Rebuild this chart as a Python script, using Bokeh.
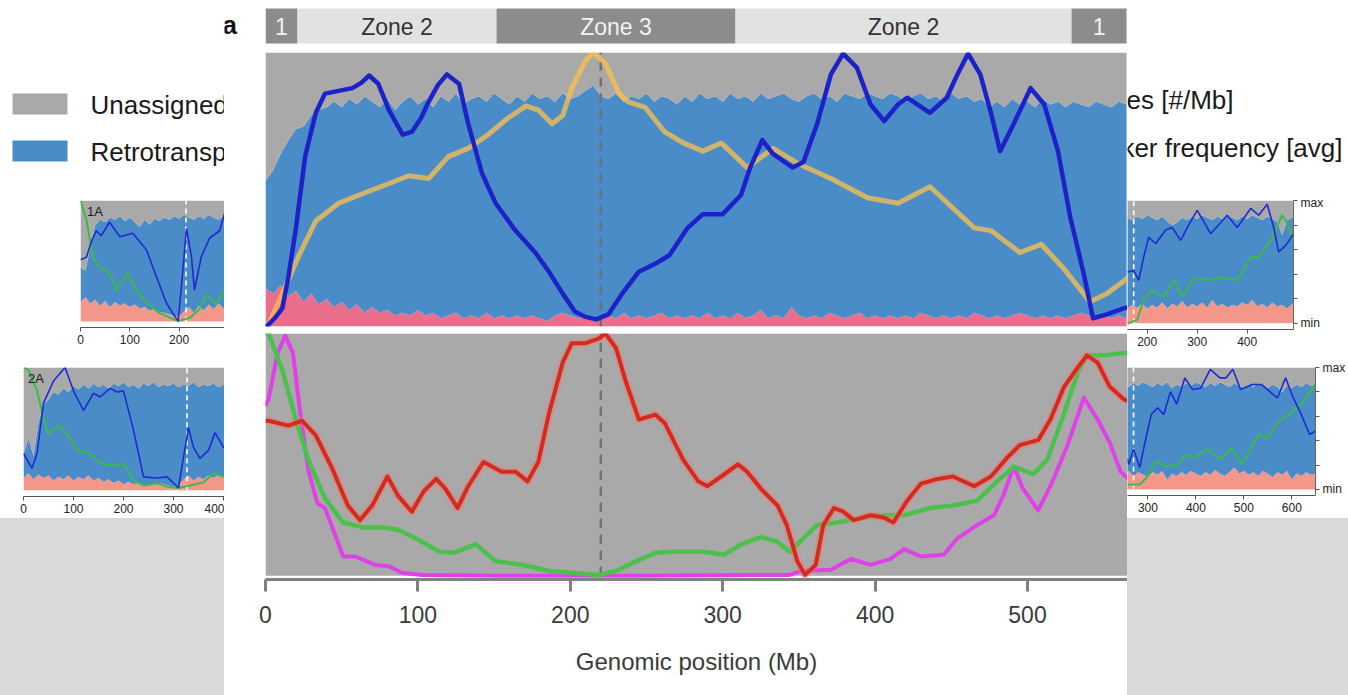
from bokeh.plotting import figure
from bokeh.layouts import row, column
from bokeh.models import Range1d, FixedTicker, LinearAxis, BoxAnnotation, Div
from bokeh.core.properties import value
from bokeh.embed import file_html
from bokeh.resources import INLINE

FONT = "Liberation Sans"
C_UNASSIGNED = "#a9a9a9"
C_RETRO = "#4a8cc8"
C_PINK = "#e96e8c"
C_SALMON = "#f4978b"
C_BLUE_LINE = "#1c22c8"
C_ORANGE = "#ffc24a"
C_RED = "#d42a20"
C_GREEN = "#4cc04c"
C_MAGENTA = "#e040e8"
C_SMALL_BLUE = "#1e2ad2"
C_SMALL_GREEN = "#3cba4a"
C_BAND = "#d9d9d9"

# ---------------- legend texts ----------------
legend_left_labels = ["Unassigned", "Retrotransposons"]
legend_left_colors = [C_UNASSIGNED, C_RETRO]
legend_right_labels = ["Genes [#/Mb]", "Marker frequency [avg]"]

# ---------------- zone bar ----------------
zone_labels = ["1", "Zone 2", "Zone 3", "Zone 2", "1"]
zone_start = [0, 21, 151.6, 308.4, 528.9]
zone_end = [21, 151.6, 308.4, 528.9, 565]
zone_dark = [True, False, True, False, True]

# ---------------- central panel (Mb) ----------------
center_ticks = [0, 100, 200, 300, 400, 500]
center_centromere = [220]

center_area_pos = list(range(0, 570, 5))
center_retro_top = [
    0.53, 0.57, 0.63, 0.68, 0.72, 0.73, 0.77, 0.79, 0.80, 0.82,
    0.80, 0.83, 0.81, 0.84, 0.82, 0.80, 0.83, 0.79, 0.82, 0.84,
    0.81, 0.83, 0.80, 0.84, 0.82, 0.85, 0.81, 0.83, 0.84, 0.82,
    0.85, 0.83, 0.81, 0.84, 0.82, 0.85, 0.83, 0.84, 0.82, 0.85,
    0.83, 0.84, 0.86, 0.88, 0.84, 0.83, 0.85, 0.82, 0.84, 0.83,
    0.85, 0.82, 0.84, 0.83, 0.81, 0.84, 0.82, 0.85, 0.83, 0.84,
    0.82, 0.85, 0.83, 0.84, 0.82, 0.85, 0.83, 0.84, 0.85, 0.83,
    0.82, 0.84, 0.85, 0.83, 0.84, 0.82, 0.85, 0.84, 0.83, 0.85,
    0.84, 0.83, 0.85, 0.84, 0.82, 0.84, 0.85, 0.83, 0.84, 0.82,
    0.85, 0.83, 0.84, 0.82, 0.83, 0.80, 0.82, 0.80, 0.83, 0.81,
    0.82, 0.80, 0.83, 0.81, 0.82, 0.80, 0.82, 0.81, 0.80, 0.82,
    0.81, 0.80, 0.82, 0.81]
center_low_top = [
    0.14, 0.12, 0.15, 0.11, 0.13, 0.09, 0.12, 0.08, 0.10, 0.07,
    0.09, 0.06, 0.08, 0.05, 0.07, 0.05, 0.06, 0.04, 0.05, 0.04,
    0.06, 0.04, 0.05, 0.03, 0.04, 0.05, 0.03, 0.04, 0.03, 0.05,
    0.03, 0.04, 0.03, 0.04, 0.03, 0.04, 0.03, 0.02, 0.04, 0.05,
    0.04, 0.03, 0.04, 0.02, 0.03, 0.04, 0.03, 0.05, 0.03, 0.04,
    0.03, 0.04, 0.05, 0.03, 0.04, 0.03, 0.04, 0.03, 0.05, 0.03,
    0.04, 0.03, 0.05, 0.03, 0.04, 0.06, 0.03, 0.04, 0.03, 0.07,
    0.04, 0.03, 0.04, 0.03, 0.05, 0.04, 0.03, 0.04, 0.05, 0.03,
    0.04, 0.03, 0.04, 0.03, 0.04, 0.03, 0.05, 0.04, 0.03, 0.04,
    0.03, 0.04, 0.03, 0.05, 0.04, 0.03, 0.04, 0.03, 0.04, 0.05,
    0.04, 0.03, 0.04, 0.03, 0.04, 0.03, 0.04, 0.05, 0.04, 0.03,
    0.04, 0.03, 0.04, 0.03]

blue_x = [0, 2, 6, 11, 15, 20, 26, 33, 39, 48, 57, 63, 68, 74, 81, 90, 96, 102, 107, 113,
          119, 127, 133, 142, 151, 164, 177, 186, 195, 203, 210, 217, 225, 234, 245, 256,
          265, 277, 287, 300, 312, 318, 326, 333, 346, 353, 362, 371, 379, 388, 397, 406,
          415, 421, 436, 447, 454, 461, 469, 476, 482, 491, 502, 511, 520, 528, 537, 543,
          552, 563, 566]
blue_y = [0.0, 0.007, 0.03, 0.066, 0.18, 0.36, 0.62, 0.78, 0.85, 0.86, 0.87, 0.89, 0.916, 0.886,
          0.79, 0.70, 0.71, 0.76, 0.82, 0.88, 0.92, 0.886, 0.74, 0.56, 0.45, 0.35, 0.27, 0.20,
          0.12, 0.055, 0.035, 0.026, 0.044, 0.12, 0.20, 0.23, 0.26, 0.36, 0.41, 0.41, 0.48,
          0.58, 0.68, 0.63, 0.58, 0.60, 0.74, 0.92, 0.996, 0.945, 0.81, 0.75, 0.81, 0.835,
          0.78, 0.835, 0.92, 0.996, 0.92, 0.78, 0.64, 0.74, 0.87, 0.81, 0.64, 0.40, 0.19,
          0.03, 0.044, 0.066, 0.07]

orange_x = [0, 2, 11, 22, 33, 48, 66, 85, 94, 107, 120, 133, 146, 159, 171, 179, 188, 195,
            201, 210, 215, 223, 232, 238, 249, 262, 274, 287, 299, 316, 333, 351, 371, 395,
            415, 436, 465, 476, 495, 509, 524, 541, 552, 563, 566]
orange_y = [0.0, 0.007, 0.12, 0.26, 0.385, 0.45, 0.49, 0.53, 0.55, 0.54, 0.62, 0.65, 0.70,
            0.76, 0.805, 0.79, 0.74, 0.77, 0.87, 0.97, 1.0, 0.96, 0.85, 0.82, 0.80, 0.71,
            0.67, 0.64, 0.67, 0.58, 0.65, 0.59, 0.54, 0.47, 0.45, 0.51, 0.36, 0.35, 0.27,
            0.30, 0.21, 0.09, 0.12, 0.165, 0.18]

red_x = [0, 2, 15, 24, 33, 44, 54, 62, 70, 80, 87, 96, 104, 112, 118, 126, 133, 143, 155,
         164, 172, 179, 186, 195, 201, 210, 219, 223, 230, 236, 245, 256, 262, 274, 284, 290,
         299, 310, 316, 325, 336, 342, 349, 354, 361, 366, 373, 379, 386, 397, 406, 412, 421,
         430, 441, 451, 465, 476, 487, 495, 507, 515, 524, 533, 539, 546, 554, 563, 566]
red_y = [0.64, 0.64, 0.62, 0.64, 0.58, 0.44, 0.29, 0.23, 0.29, 0.41, 0.33, 0.265, 0.35, 0.40,
         0.36, 0.28, 0.37, 0.47, 0.43, 0.43, 0.39, 0.47, 0.67, 0.88, 0.96, 0.96, 0.98, 1.0,
         0.94, 0.81, 0.645, 0.665, 0.63, 0.48, 0.39, 0.37, 0.41, 0.46, 0.43, 0.36, 0.29, 0.21,
         0.06, 0.004, 0.045, 0.21, 0.28, 0.265, 0.23, 0.25, 0.24, 0.22, 0.31, 0.38, 0.40, 0.41,
         0.37, 0.41, 0.49, 0.54, 0.56, 0.645, 0.78, 0.86, 0.91, 0.88, 0.78, 0.73, 0.72]

green_x = [0, 2, 11, 20, 28, 39, 51, 64, 77, 87, 100, 114, 123, 138, 151, 169, 186, 203, 219,
           230, 243, 256, 269, 287, 301, 312, 325, 336, 344, 353, 362, 375, 388, 402, 419, 436,
           451, 467, 480, 491, 504, 513, 524, 533, 539, 552, 563, 566]
green_y = [1.0, 1.0, 0.85, 0.645, 0.48, 0.32, 0.22, 0.20, 0.20, 0.19, 0.15, 0.10, 0.095, 0.13,
           0.06, 0.045, 0.02, 0.012, 0.004, 0.02, 0.06, 0.095, 0.10, 0.10, 0.087, 0.13, 0.16,
           0.14, 0.10, 0.155, 0.21, 0.22, 0.235, 0.25, 0.25, 0.28, 0.29, 0.31, 0.39, 0.45, 0.42,
           0.48, 0.67, 0.84, 0.91, 0.91, 0.92, 0.92]

magenta_x = [0, 2, 8, 13, 18, 22, 28, 34, 39, 51, 59, 72, 81, 90, 103, 150, 250, 344, 351,
             371, 384, 397, 410, 419, 430, 445, 454, 467, 478, 484, 491, 497, 507, 515, 526,
             537, 546, 554, 561, 566]
magenta_y = [0.70, 0.73, 0.92, 0.99, 0.92, 0.71, 0.44, 0.30, 0.28, 0.08, 0.08, 0.045, 0.04,
             0.012, 0.004, 0.0, 0.0, 0.004, 0.02, 0.025, 0.07, 0.045, 0.07, 0.11, 0.08, 0.087,
             0.155, 0.21, 0.25, 0.33, 0.45, 0.36, 0.27, 0.37, 0.535, 0.735, 0.645, 0.55, 0.43,
             0.40]

# ---------------- small panel 1A ----------------
p1a_label = "1A"
p1a_ticks = [0, 100, 200, 300]
p1a_cen = [214]
p1a_pos = list(range(0, 310, 10))
p1a_retro = [0.45, 0.42, 0.62, 0.80, 0.84, 0.82, 0.86, 0.84, 0.87, 0.83, 0.86, 0.82, 0.78,
             0.84, 0.80, 0.85, 0.83, 0.86, 0.84, 0.87, 0.85, 0.88, 0.86, 0.84, 0.87, 0.85,
             0.88, 0.86, 0.84, 0.87, 0.85]
p1a_low = [0.16, 0.20, 0.15, 0.18, 0.13, 0.17, 0.12, 0.16, 0.13, 0.15, 0.12, 0.14, 0.11, 0.12,
           0.09, 0.10, 0.08, 0.07, 0.06, 0.04, 0.05, 0.08, 0.12, 0.07, 0.13, 0.09, 0.14, 0.10,
           0.15, 0.11, 0.13]
p1a_blue_x = [0, 12, 22, 32, 42, 59, 80, 106, 134, 154, 174, 190, 198, 204, 215, 225, 231,
              245, 262, 282, 292]
p1a_blue_y = [0.51, 0.53, 0.66, 0.75, 0.71, 0.82, 0.70, 0.73, 0.59, 0.37, 0.155, 0.05, 0.003,
              0.26, 0.77, 0.535, 0.26, 0.535, 0.69, 0.75, 0.89]
p1a_green_x = [0, 12, 25, 38, 59, 73, 96, 113, 134, 160, 198, 222, 241, 255, 275, 288, 292]
p1a_green_y = [1.0, 0.84, 0.535, 0.45, 0.40, 0.26, 0.40, 0.26, 0.155, 0.07, 0.003, 0.03, 0.10,
               0.22, 0.14, 0.24, 0.25]

# ---------------- small panel 2A ----------------
p2a_label = "2A"
p2a_ticks = [0, 100, 200, 300, 400]
p2a_cen = [327]
p2a_pos = list(range(0, 420, 10))
p2a_retro = [0.30, 0.42, 0.28, 0.55, 0.70, 0.74, 0.80, 0.78, 0.83, 0.80, 0.85, 0.82, 0.86,
             0.83, 0.87, 0.84, 0.86, 0.83, 0.87, 0.85, 0.88, 0.84, 0.86, 0.83, 0.87, 0.85,
             0.88, 0.84, 0.86, 0.85, 0.87, 0.84, 0.86, 0.85, 0.88, 0.84, 0.86, 0.85, 0.87,
             0.84, 0.86, 0.85]
p2a_low = [0.10, 0.14, 0.09, 0.13, 0.10, 0.12, 0.08, 0.11, 0.09, 0.12, 0.08, 0.11, 0.09, 0.12,
           0.08, 0.10, 0.07, 0.09, 0.06, 0.08, 0.05, 0.07, 0.05, 0.06, 0.04, 0.05, 0.04, 0.06,
           0.05, 0.04, 0.03, 0.04, 0.09, 0.12, 0.08, 0.11, 0.09, 0.12, 0.10, 0.13, 0.11, 0.12]
p2a_blue_x = [0, 17, 27, 40, 60, 83, 100, 120, 140, 153, 173, 187, 200, 220, 240, 267, 287,
              310, 320, 330, 340, 353, 370, 383, 400, 402]
p2a_blue_y = [0.30, 0.18, 0.30, 0.71, 0.89, 1.0, 0.81, 0.65, 0.79, 0.76, 0.83, 0.80, 0.81,
              0.49, 0.11, 0.10, 0.11, 0.02, 0.27, 0.51, 0.35, 0.26, 0.325, 0.47, 0.35, 0.35]
p2a_green_x = [0, 10, 27, 40, 50, 70, 87, 107, 133, 153, 180, 200, 220, 240, 267, 287, 310,
               333, 360, 380, 400, 402]
p2a_green_y = [1.0, 0.98, 0.81, 0.59, 0.46, 0.53, 0.46, 0.325, 0.30, 0.22, 0.20, 0.22, 0.08,
               0.04, 0.057, 0.03, 0.02, 0.04, 0.065, 0.14, 0.11, 0.11]

# ---------------- right-top small panel ----------------
prt_ticks = [200, 300, 400]
prt_cen = [173]
prt_pos = list(range(160, 510, 10))
prt_retro = [0.86, 0.84, 0.87, 0.85, 0.88, 0.86, 0.84, 0.87, 0.83, 0.80, 0.82, 0.86, 0.84,
             0.87, 0.85, 0.88, 0.86, 0.84, 0.87, 0.85, 0.88, 0.86, 0.84, 0.87, 0.85, 0.88,
             0.86, 0.84, 0.87, 0.85, 0.83, 0.72, 0.84, 0.86, 0.85]
prt_low = [0.12, 0.15, 0.13, 0.16, 0.12, 0.15, 0.13, 0.17, 0.12, 0.16, 0.14, 0.18, 0.13, 0.16,
           0.14, 0.17, 0.13, 0.19, 0.14, 0.16, 0.13, 0.15, 0.14, 0.17, 0.15, 0.19, 0.14, 0.16,
           0.13, 0.17, 0.14, 0.15, 0.12, 0.16, 0.14]
prt_blue_x = [160, 163, 173, 183, 193, 203, 217, 237, 250, 267, 280, 300, 327, 360, 380, 407,
              423, 440, 453, 463, 477, 493]
prt_blue_y = [0.42, 0.42, 0.43, 0.35, 0.54, 0.70, 0.65, 0.76, 0.78, 0.675, 0.78, 0.92, 0.73,
              0.88, 0.78, 0.935, 0.88, 0.97, 0.78, 0.58, 0.635, 0.73]
prt_green_x = [160, 163, 180, 193, 207, 233, 253, 270, 293, 327, 347, 380, 407, 423, 447, 470,
               480, 493]
prt_green_y = [0.0, 0.0, 0.03, 0.19, 0.27, 0.215, 0.35, 0.215, 0.37, 0.35, 0.375, 0.35, 0.54,
               0.54, 0.675, 0.88, 0.82, 0.675]

# ---------------- right-bottom small panel ----------------
prb_ticks = [300, 400, 500, 600]
prb_cen = [270]
prb_pos = list(range(250, 660, 10))
prb_retro = [0.86, 0.84, 0.87, 0.85, 0.88, 0.86, 0.84, 0.87, 0.85, 0.88, 0.83, 0.86, 0.84,
             0.87, 0.85, 0.88, 0.86, 0.84, 0.87, 0.85, 0.88, 0.86, 0.84, 0.87, 0.85, 0.83,
             0.86, 0.84, 0.87, 0.85, 0.83, 0.86, 0.84, 0.80, 0.85, 0.83, 0.86, 0.84, 0.87,
             0.85, 0.86]
prb_low = [0.12, 0.15, 0.11, 0.14, 0.12, 0.10, 0.14, 0.12, 0.15, 0.08, 0.13, 0.11, 0.14, 0.12,
           0.15, 0.13, 0.11, 0.14, 0.12, 0.16, 0.13, 0.11, 0.14, 0.18, 0.13, 0.15, 0.12, 0.14,
           0.11, 0.15, 0.13, 0.10, 0.14, 0.12, 0.15, 0.08, 0.13, 0.11, 0.14, 0.12, 0.13]
prb_blue_x = [257, 260, 270, 283, 293, 307, 320, 333, 347, 360, 377, 393, 410, 430, 450, 463,
              477, 493, 517, 537, 570, 587, 603, 617, 637, 650]
prb_blue_y = [0.25, 0.205, 0.33, 0.18, 0.37, 0.615, 0.67, 0.615, 0.80, 0.70, 0.915, 0.82, 0.83,
              0.985, 0.915, 0.915, 0.985, 0.82, 0.86, 0.86, 0.75, 0.915, 0.75, 0.64, 0.45, 0.48]
prb_green_x = [257, 260, 283, 297, 317, 337, 363, 377, 397, 423, 453, 473, 497, 530, 550, 567,
               600, 620, 647, 650]
prb_green_y = [0.04, 0.04, 0.04, 0.095, 0.23, 0.19, 0.20, 0.285, 0.26, 0.33, 0.245, 0.34, 0.205,
               0.45, 0.42, 0.535, 0.64, 0.70, 0.85, 0.86]

minmax_ticks = [0, 0.2, 0.4, 0.6, 0.8, 1]
minmax_labels = {0: "min", 0.2: "", 0.4: "", 0.6: "", 0.8: "", 1: "max"}


def base_fig(width, height, x_range, y_range, left=0, right=0, top=0, bottom=0,
             bg="white", border="white"):
    p = figure(width=width, height=height, x_range=x_range, y_range=y_range,
               output_backend="svg", toolbar_location=None,
               x_axis_location=None, y_axis_location=None,
               min_border=0, min_border_left=left, min_border_right=right,
               min_border_top=top, min_border_bottom=bottom,
               background_fill_color=bg, border_fill_color=border)
    p.frame_align = False
    p.outline_line_color = None
    p.grid.visible = False
    return p


def style_small_xaxis(ax, ticks):
    ax.ticker = FixedTicker(ticks=ticks)
    ax.axis_line_color = "#555555"
    ax.axis_line_width = 1
    ax.major_tick_line_color = "#555555"
    ax.major_tick_out = 4
    ax.major_tick_in = 0
    ax.minor_tick_line_color = None
    ax.major_label_standoff = 3
    ax.major_label_text_font = FONT
    ax.major_label_text_font_size = "12px"
    ax.major_label_text_color = "#222222"


def small_panel(width, height, left, right, top, bottom, xs, xe, pos, retro, low,
                bx, by, gx, gy, cen, ticks, label=None, label_x=None, right_axis=False):
    p = base_fig(width, height, Range1d(xs, xe), Range1d(-0.05, 1.0),
                 left=left, right=right, top=top, bottom=bottom)
    p.varea(x=pos, y1=[0] * len(pos), y2=low, fill_color=C_SALMON)
    p.varea(x=pos, y1=low, y2=retro, fill_color=C_RETRO)
    p.varea(x=pos, y1=retro, y2=[1] * len(pos), fill_color=C_UNASSIGNED)
    p.segment(x0=cen, y0=[0], x1=cen, y1=[1], line_color="white", line_width=1.6,
              line_dash="5 4")
    p.line(gx, gy, line_color=C_SMALL_GREEN, line_width=2)
    p.line(bx, by, line_color=C_SMALL_BLUE, line_width=1.6)
    if label:
        p.text(x=[label_x], y=[0.91], text=[label], text_font=value(FONT),
               text_font_size=value("13px"), text_color="#1a1a1a",
               text_align="left", text_baseline="middle")
    ax = LinearAxis()
    style_small_xaxis(ax, ticks)
    p.add_layout(ax, "below")
    if right_axis:
        ay = LinearAxis(ticker=FixedTicker(ticks=minmax_ticks),
                        major_label_overrides=minmax_labels)
        ay.axis_line_color = "#666666"
        ay.major_tick_line_color = "#555555"
        ay.major_tick_out = 4
        ay.major_tick_in = 0
        ay.minor_tick_line_color = None
        ay.major_label_standoff = 3
        ay.major_label_text_font = FONT
        ay.major_label_text_font_size = "12px"
        ay.major_label_text_color = "#222222"
        p.add_layout(ay, "right")
    return p


# ---------------- left column ----------------
legL = base_fig(224, 195, Range1d(0, 224), Range1d(195, 0))
legL.quad(left=[12, 12], right=[67, 67], top=[93, 140], bottom=[114, 161],
          fill_color=legend_left_colors, line_color=None)
legL.text(x=[90, 90], y=[104, 151], text=legend_left_labels, text_font=value(FONT),
          text_font_size=value("26px"), text_color="#1a1a1a", text_align="left",
          text_baseline="middle")

f1a = small_panel(224, 165, 80, 0, 5, 33, 0, 292, p1a_pos, p1a_retro, p1a_low,
                  p1a_blue_x, p1a_blue_y, p1a_green_x, p1a_green_y, p1a_cen, p1a_ticks,
                  label=p1a_label, label_x=13)
f2a = small_panel(224, 158, 23, 0, 7, 22, 0, 402, p2a_pos, p2a_retro, p2a_low,
                  p2a_blue_x, p2a_blue_y, p2a_green_x, p2a_green_y, p2a_cen, p2a_ticks,
                  label=p2a_label, label_x=9)
grayL = Div(width=224, height=177, margin=0, styles={"background-color": C_BAND})

left_col = column(legL, f1a, f2a, grayL, spacing=0)

# ---------------- center column ----------------
cx = Range1d(0, 565.6)

a_fig = base_fig(41, 50, Range1d(0, 41), Range1d(50, 0))
a_fig.text(x=[-2], y=[24], text=["a"], text_font=value(FONT), text_font_size=value("26px"),
           text_font_style="bold", text_color="#111111", text_align="left",
           text_baseline="middle")

zone_fig = base_fig(862, 50, cx, Range1d(50, 0))
zone_fill = ["#8c8c8c" if d else "#e2e2e2" for d in zone_dark]
zone_text_col = ["#f2f2f2" if d else "#333333" for d in zone_dark]
zone_mid = [(s + e) / 2 for s, e in zip(zone_start, zone_end)]
zone_fig.quad(left=zone_start, right=zone_end, top=8, bottom=43, fill_color=zone_fill,
              line_color=None)
zone_fig.text(x=zone_mid, y=[26] * len(zone_mid), text=zone_labels, text_font=value(FONT),
              text_font_size=value("23px"), text_color=zone_text_col, text_align="center",
              text_baseline="middle")

top_fig = base_fig(903, 279, cx, Range1d(0, 1.0), left=41, right=0, top=2, bottom=3)
top_fig.varea(x=center_area_pos, y1=[0] * len(center_area_pos), y2=center_low_top,
              fill_color=C_PINK)
top_fig.varea(x=center_area_pos, y1=center_low_top, y2=center_retro_top, fill_color=C_RETRO)
top_fig.varea(x=center_area_pos, y1=center_retro_top, y2=[1] * len(center_area_pos),
              fill_color=C_UNASSIGNED)
top_fig.segment(x0=center_centromere, y0=[0], x1=center_centromere, y1=[1],
                line_color="#707070", line_width=2.5, line_dash="9 7")
top_fig.line(orange_x, orange_y, line_color=C_ORANGE, line_alpha=0.75, line_width=5,
             line_join="round")
top_fig.line(blue_x, blue_y, line_color=C_BLUE_LINE, line_width=4.5, line_join="round")

bot_fig = figure(width=903, height=366, x_range=cx, y_range=Range1d(-0.015, 1.0),
                 output_backend="svg", toolbar_location=None,
                 x_axis_location="below", y_axis_location=None,
                 min_border=0, min_border_left=41, min_border_right=0,
                 min_border_top=4, min_border_bottom=116,
                 background_fill_color="white", border_fill_color="white")
bot_fig.frame_align = False
bot_fig.outline_line_color = None
bot_fig.grid.visible = False
bot_fig.add_layout(BoxAnnotation(bottom=0, fill_color=C_UNASSIGNED, fill_alpha=1,
                                 line_color=None, level="underlay"))
bot_fig.segment(x0=center_centromere, y0=[0], x1=center_centromere, y1=[1],
                line_color="#707070", line_width=2.5, line_dash="9 7")
bot_fig.line(magenta_x, magenta_y, line_color=C_MAGENTA, line_width=4, line_join="round")
bot_fig.line(green_x, green_y, line_color=C_GREEN, line_width=4.5, line_join="round")
bot_fig.line(red_x, red_y, line_color="#f07a6a", line_alpha=0.45, line_width=8,
             line_join="round")
bot_fig.line(red_x, red_y, line_color=C_RED, line_width=4, line_join="round")
xa = bot_fig.xaxis[0]
xa.ticker = FixedTicker(ticks=center_ticks)
xa.axis_line_color = "#808080"
xa.axis_line_width = 3
xa.major_tick_line_color = "#808080"
xa.major_tick_line_width = 3
xa.major_tick_out = 12
xa.major_tick_in = 0
xa.minor_tick_line_color = None
xa.major_label_standoff = 14
xa.major_label_text_font = FONT
xa.major_label_text_font_size = "23px"
xa.major_label_text_color = "#3a3a3a"
xa.axis_label = "Genomic position (Mb)"
xa.axis_label_text_font = FONT
xa.axis_label_text_font_size = "24px"
xa.axis_label_text_font_style = "normal"
xa.axis_label_text_color = "#3a3a3a"
xa.axis_label_standoff = 22

center_col = column(row(a_fig, zone_fig, spacing=0), top_fig, bot_fig, spacing=0)

# ---------------- right column ----------------
legR = base_fig(221, 195, Range1d(0, 221), Range1d(195, 0))
legR.text(x=[106, 215], y=[99, 147], text=legend_right_labels, text_font=value(FONT),
          text_font_size=value("26px"), text_color="#1a1a1a", text_align="right",
          text_baseline="middle")

frt = small_panel(221, 165, 0, 55, 5, 31, 160.6, 492.6, prt_pos, prt_retro, prt_low,
                  prt_blue_x, prt_blue_y, prt_green_x, prt_green_y, prt_cen, prt_ticks,
                  right_axis=True)
frb = small_panel(221, 158, 0, 25, 7, 23, 257.4, 649.4, prb_pos, prb_retro, prb_low,
                  prb_blue_x, prb_blue_y, prb_green_x, prb_green_y, prb_cen, prb_ticks,
                  right_axis=True)
grayR = Div(width=221, height=177, margin=0, styles={"background-color": C_BAND})

right_col = column(legR, frt, frb, grayR, spacing=0)

layout = row(left_col, center_col, right_col, spacing=0)

open("out.html", "w").write(file_html(layout, INLINE, title="Genomic zones"))
